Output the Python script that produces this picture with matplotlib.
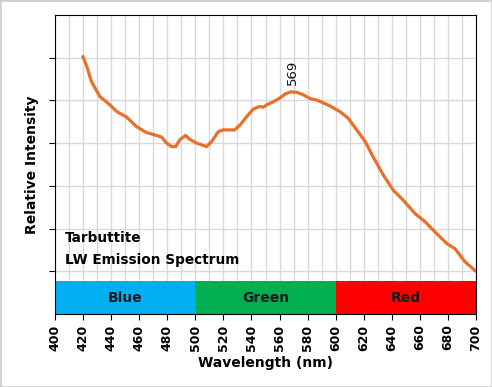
"""
Tarbuttite LW emission spectrum.
"""

import matplotlib
matplotlib.use("Agg")
import matplotlib.pyplot as plt
from matplotlib.patches import Rectangle

wavelength = [420, 422.6, 426, 432, 439, 444, 451, 458, 465, 472.5, 476, 479.6,
              483, 486, 489, 493, 496, 501, 508, 511.7, 516.4, 520, 528, 532,
              536.6, 541.4, 546, 548.5, 551, 555.6, 560, 564, 568, 572.3, 577,
              582, 586.5, 590, 596, 603, 609, 615, 621, 627, 634, 641, 648,
              656.6, 663.7, 670.8, 679.2, 685, 692.2, 700]
intensity = [5.02, 4.80, 4.44, 4.09, 3.90, 3.74, 3.61, 3.39, 3.25, 3.18, 3.14, 3.00,
             2.92, 2.92, 3.08, 3.18, 3.09, 3.00, 2.92, 3.04, 3.27, 3.31, 3.31, 3.43,
             3.62, 3.80, 3.86, 3.84, 3.90, 3.97, 4.05, 4.15, 4.20, 4.19, 4.13,
             4.04, 4.01, 3.96, 3.87, 3.74, 3.58, 3.31, 3.04, 2.66, 2.25, 1.90, 1.67,
             1.35, 1.16, 0.92, 0.65, 0.53, 0.22, 0.0]

bands = ["Blue", "Green", "Red"]
band_start = [400, 500, 600]
band_colors = ["#00B0F0", "#00B050", "#FF0000"]
peak_nm = 569

fig = plt.figure(figsize=(4.92, 3.87), dpi=100)
ax = fig.add_axes([55 / 492, 73 / 387, 421 / 492, 299 / 387])
fig.patches.append(Rectangle((0, 0), 1, 1, transform=fig.transFigure,
                             fill=False, edgecolor="#d0d0d0", linewidth=2))

ax.set_xlim(400, 700)
ax.set_ylim(-1, 6)
ax.set_xticks(range(400, 701, 20))
ax.set_xticks(range(400, 701, 10), minor=True)
ax.set_yticks(range(0, 6))
ax.set_yticklabels([])
ax.grid(True, which="both", color="#d9d9d9", linewidth=1)
ax.set_axisbelow(True)
ax.tick_params(axis="x", which="minor", length=0)
ax.tick_params(axis="x", which="major", length=4, labelsize=9, rotation=90)
ax.tick_params(axis="y", length=4)
for lab in ax.get_xticklabels():
    lab.set_fontweight("bold")

for name, start, col in zip(bands, band_start, band_colors):
    ax.bar(start, -0.77, width=100, bottom=-0.23, align="edge", color=col,
           zorder=3)
    ax.text(start + 50, -0.615, name, ha="center", va="center", fontsize=10,
            fontweight="bold", color="#1a1a1a", zorder=4)

ax.plot(wavelength, intensity, color="#E8702A", linewidth=2.3, zorder=5)
ax.text(peak_nm + 0.5, 4.35, str(peak_nm), rotation=90, ha="center",
        va="bottom", fontsize=9.5, color="#111111")

ax.text(407, 0.78, "Tarbuttite", fontsize=9.8, fontweight="bold", va="center")
ax.text(407, 0.27, "LW Emission Spectrum", fontsize=9.8, fontweight="bold",
        va="center")

for s in ax.spines.values():
    s.set_color("black")
    s.set_zorder(6)

ax.set_xlabel("Wavelength (nm)", fontsize=10, fontweight="bold")
ax.set_ylabel("Relative Intensity", fontsize=10, fontweight="bold")

plt.savefig("out.png", dpi=100)
plt.close()
